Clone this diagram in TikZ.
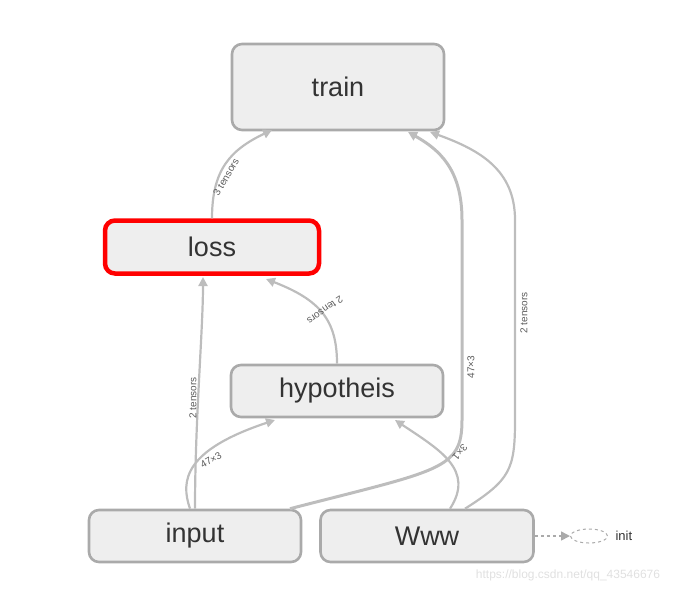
\documentclass[tikz,border=0pt]{standalone}
\usepackage{fontspec}
\setmainfont{Liberation Sans}
\usetikzlibrary{arrows.meta,shapes.geometric}
\definecolor{bfill}{HTML}{EEEEEE}
\definecolor{bdraw}{HTML}{AAAAAA}
\definecolor{edge}{HTML}{BDBDBD}
\definecolor{txt}{HTML}{333333}
\begin{document}
\begin{tikzpicture}[x=1pt,y=-1pt,
  box/.style={draw=bdraw,fill=bfill,line width=2.6pt,rounded corners=10pt,text=txt,font=\fontsize{27}{29}\selectfont,inner sep=0pt},
  e/.style={draw=edge,line width=2.2pt,-{Triangle[length=9pt,width=9pt]}},
  thick e/.style={e,line width=3pt},
  lab/.style={font=\fontsize{10}{11}\selectfont,text=txt!80,inner sep=1pt}]
\useasboundingbox (0,0) rectangle (700,592);
\node[box,minimum width=212,minimum height=86] (train) at (338,87) {train};
\node[box,draw=red,line width=4.5pt,minimum width=214,minimum height=53] (loss) at (212,247) {loss};
\node[box,minimum width=212,minimum height=52] (hyp) at (337,391) {hypotheis};
\node[box,minimum width=212,minimum height=52] (input) at (195,536) {input};
\node[box,minimum width=213,minimum height=52] (www) at (427,536) {Www};
\node[draw=bdraw,dashed,ellipse,line width=1pt,minimum width=37,minimum height=14,inner sep=0pt] (init) at (589,536) {};
\node[anchor=west,text=txt,font=\fontsize{13}{14}\selectfont] (initl) at (612,536) {init};
\node[text=black!12,font=\fontsize{12}{13}\selectfont] (wm) at (568,575) {https://blog.csdn.net/qq\_43546676};

\draw[e] (loss.north) .. controls (212,170) and (230,150) .. (272,130);
\node[lab,rotate=60] (l3t) at (226,177) {3 tensors};
\draw[e] (hyp.north) .. controls (337,320) and (320,300) .. (266,279);
\node[lab,rotate=-145] (l2h) at (325,310) {2 tensors};
\draw[e] (input.north) .. controls (195,420) and (203,330) .. (203,277);
\node[lab,rotate=90] (l2i) at (193,398) {2 tensors};
\draw[e] ([xshift=-5pt]input.north) .. controls (180,480) and (185,450) .. (275,420);
\node[lab,rotate=30] (l47a) at (211,460) {47×3};
\draw[thick e] ([xshift=95pt]input.north) .. controls (440,470) and (462,470) .. (462,420)
  -- (462,220) .. controls (462,170) and (440,150) .. (408,132);
\node[lab,rotate=90] (l47) at (471,367) {47×3};
\draw[e] ([xshift=23pt]www.north) .. controls (475,470) and (440,450) .. (395,420);
\node[lab,rotate=-130] (l31) at (460,452) {3×1};
\draw[e] ([xshift=38pt]www.north) .. controls (510,480) and (515,470) .. (515,420)
  -- (515,220) .. controls (515,170) and (480,150) .. (430,132);
\node[lab,rotate=90] (l2t) at (524,313) {2 tensors};
\draw[draw=bdraw,dashed,line width=1.5pt,-{Triangle[length=9pt,width=9pt]}] (www.east) -- (init.west);
\end{tikzpicture}
\end{document}
